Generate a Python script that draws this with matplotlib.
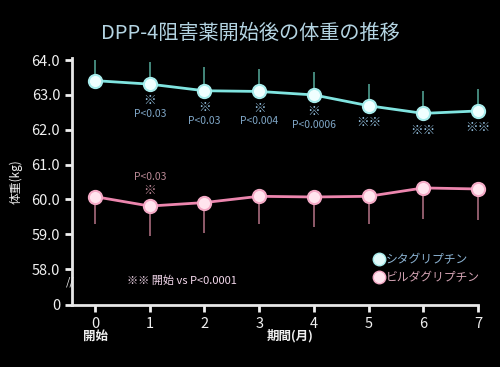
import matplotlib
matplotlib.use("Agg")
import matplotlib.pyplot as plt
from matplotlib.lines import Line2D

plt.rcParams['font.family'] = ['Noto Sans CJK JP', 'DejaVu Sans']

# データ
meses = [0, 1, 2, 3, 4, 5, 6, 7]
sita = [63.41, 63.31, 63.12, 63.10, 63.00, 62.69, 62.47, 62.54]
sita_err = [0.60, 0.64, 0.67, 0.63, 0.65, 0.63, 0.63, 0.63]
vilda = [60.08, 59.81, 59.91, 60.09, 60.07, 60.09, 60.33, 60.30]
vilda_err = [0.78, 0.87, 0.87, 0.80, 0.87, 0.80, 0.89, 0.90]

sita_ast = ["", "※", "※", "※", "※", "※※", "※※", "※※"]
sita_p = ["", "P<0.03", "P<0.03", "P<0.004", "P<0.0006", "", "", ""]
vilda_ast = ["", "※", "", "", "", "", "", ""]
vilda_p = ["", "P<0.03", "", "", "", "", "", ""]

y_ticks = [56.97, 58.0, 59.0, 60.0, 61.0, 62.0, 63.0, 64.0]
y_labels = ["0", "58.0", "59.0", "60.0", "61.0", "62.0", "63.0", "64.0"]

fig = plt.figure(figsize=(5.0, 3.67), dpi=100, facecolor='black')
ax = fig.add_axes([0.144, 0.169, 0.812, 0.672], facecolor='black')

# barras de erro (só para um lado)
ax.errorbar(meses, sita, yerr=[[0] * 8, sita_err], fmt='none', ecolor='#4f9e90',
            elinewidth=1.2, capsize=0, zorder=2, clip_on=False)
ax.errorbar(meses, vilda, yerr=[vilda_err, [0] * 8], fmt='none', ecolor='#a86a7c',
            elinewidth=1.2, capsize=0, zorder=2, clip_on=False)

ax.plot(meses, sita, color='#80e4e0', linewidth=2, marker='o', markersize=9.5,
        markerfacecolor='#f0ffff', markeredgecolor='#a8ecec', markeredgewidth=1.5,
        zorder=3, clip_on=False)
ax.plot(meses, vilda, color='#ec86ae', linewidth=2, marker='o', markersize=9.5,
        markerfacecolor='#ffe4ee', markeredgecolor='#f4aac6', markeredgewidth=1.5,
        zorder=3, clip_on=False)

# anotações de significância
for x, y, a, p in zip(meses, sita, sita_ast, sita_p):
    if a:
        ax.annotate(a, (x, y), xytext=(0, -12), textcoords='offset points',
                    ha='center', va='center', fontsize=9, color='#9ccbec')
    if p:
        ax.annotate(p, (x, y), xytext=(0, -21.5), textcoords='offset points',
                    ha='center', va='center', fontsize=7.5, color='#7fa6c6')
for x, y, a, p in zip(meses, vilda, vilda_ast, vilda_p):
    if a:
        ax.annotate(a, (x, y), xytext=(0, 11), textcoords='offset points',
                    ha='center', va='center', fontsize=9, color='#c890a0')
    if p:
        ax.annotate(p, (x, y), xytext=(0, 21), textcoords='offset points',
                    ha='center', va='center', fontsize=7.5, color='#b88894')

ax.set_xlim(-0.42, 7.0)
ax.set_ylim(56.97, 64.05)
ax.set_xticks(meses)
ax.set_xticklabels([str(m) for m in meses])
ax.set_yticks(y_ticks)
ax.set_yticklabels(y_labels)

for lado in ['top', 'right']:
    ax.spines[lado].set_visible(False)
for lado in ['left', 'bottom']:
    ax.spines[lado].set_color('#e8e8e8')
    ax.spines[lado].set_linewidth(2)
ax.tick_params(colors='#f0f0f0', labelsize=10.5, width=2, length=5, direction='out')

# marca de quebra do eixo
ax.text(-0.45, 57.63, "//", ha='center', va='center', fontsize=8,
        color='#f0f0f0', clip_on=False)

ax.set_ylabel("体重(kg)", color='#f0f0f0', fontsize=8.5, labelpad=6)
fig.text(0.58, 0.075, "期間(月)", color='#f0f0f0', fontsize=9, fontweight='bold',
         ha='center')
fig.text(0.19, 0.075, "開始", color='#f0f0f0', fontsize=9, fontweight='bold',
         ha='center')
fig.text(0.5, 0.895, "DPP-4阻害薬開始後の体重の推移", color='#b4d4e2', fontsize=14.5,
         ha='center')

ax.text(0.135, 0.097, "※※ 開始 vs P<0.0001", transform=ax.transAxes, color='#f4d8ec',
        fontsize=8, ha='left', va='center')

handles = [
    Line2D([], [], linestyle='none', marker='o', markersize=9,
           markerfacecolor='#e0fafa', markeredgecolor='#a8ecec'),
    Line2D([], [], linestyle='none', marker='o', markersize=9,
           markerfacecolor='#ffe4ee', markeredgecolor='#f4aac6'),
]
leg = ax.legend(handles, ["シタグリプチン", "ビルダグリプチン"], loc='upper left',
                bbox_to_anchor=(0.715, 0.255), frameon=False, fontsize=8.5,
                handletextpad=0.1, handlelength=1.0, labelspacing=0.45)
for t, c in zip(leg.get_texts(), ['#8cb4d4', '#d4a4b4']):
    t.set_color(c)

fig.savefig("out.png", dpi=100, facecolor='black')
